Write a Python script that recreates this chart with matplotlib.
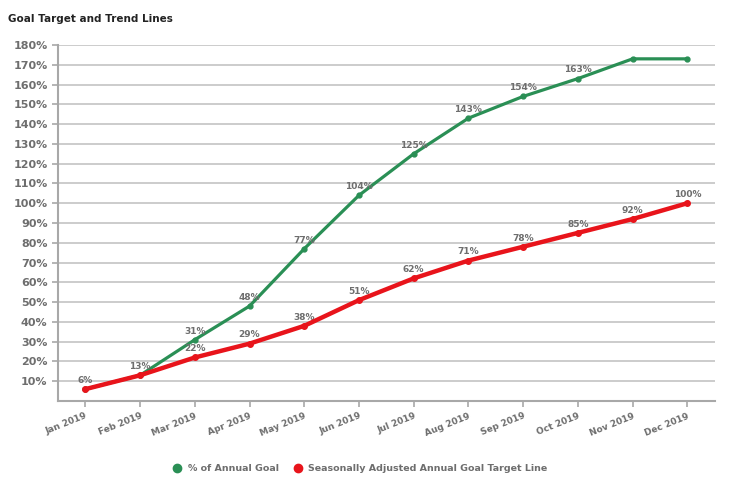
import matplotlib.pyplot as plt

months = ["Jan 2019", "Feb 2019", "Mar 2019", "Apr 2019", "May 2019", "Jun 2019",
          "Jul 2019", "Aug 2019", "Sep 2019", "Oct 2019", "Nov 2019", "Dec 2019"]
annual_goal = [6, 13, 31, 48, 77, 104, 125, 143, 154, 163, 173, 173]
goal_labels = ["6%", "13%", "31%", "48%", "77%", "104%", "125%", "143%", "154%", "163%", "", ""]
target_line = [6, 13, 22, 29, 38, 51, 62, 71, 78, 85, 92, 100]
target_labels = ["", "", "22%", "29%", "38%", "51%", "62%", "71%", "78%", "85%", "92%", "100%"]
yticks = list(range(10, 190, 10))

green = "#2a8f55"
red = "#e8141b"
grey = "#6e6e6e"

fig = plt.figure(figsize=(7.3, 4.87), dpi=100)
ax = fig.add_axes([0.0795, 0.1766, 0.8995, 0.731])

x = list(range(len(months)))
ax.plot(x, annual_goal, color=green, linewidth=2.3, marker="o", markersize=3.5, zorder=3)
ax.plot(x, target_line, color=red, linewidth=3.2, marker="o", markersize=4, zorder=4)


### data labels above the points
def put_labels(values, labels):
    for i, (v, lab) in enumerate(zip(values, labels)):
        if lab:
            ax.annotate(lab, (i, v), xytext=(0, 3), textcoords="offset points",
                        ha="center", va="bottom", fontsize=6.5, fontweight="bold", color=grey)


put_labels(annual_goal, goal_labels)
put_labels(target_line, target_labels)

ax.set_xlim(-0.5, 11.5)
ax.set_ylim(0, 180)
ax.set_yticks(yticks)
ax.set_yticklabels([f"{t}%" for t in yticks])
ax.set_xticks(x)
ax.set_xticklabels(months, rotation=22, ha="right", rotation_mode="anchor")
ax.yaxis.grid(True, color="#c4c4c4", linewidth=1.2)
ax.set_axisbelow(True)

for s in ["top", "right"]:
    ax.spines[s].set_visible(False)
for s in ["left", "bottom"]:
    ax.spines[s].set_color("#a8a8a8")
    ax.spines[s].set_linewidth(1.5)
ax.tick_params(axis="y", colors="#a8a8a8", labelcolor=grey, labelsize=8, length=4, width=1.2)
ax.tick_params(axis="x", colors="#a8a8a8", labelcolor=grey, labelsize=6.5, length=4, width=1.2)
for t in ax.get_yticklabels() + ax.get_xticklabels():
    t.set_fontweight("bold")

fig.text(0.011, 0.962, "Goal Target and Trend Lines", fontsize=7.5, fontweight="bold",
         color="#222222", va="center")

h1 = plt.Line2D([], [], color=green, marker="o", linestyle="", markersize=6)
h2 = plt.Line2D([], [], color=red, marker="o", linestyle="", markersize=6)
leg = fig.legend([h1, h2], ["% of Annual Goal", "Seasonally Adjusted Annual Goal Target Line"],
                 loc="center", bbox_to_anchor=(0.49, 0.037), ncol=2, frameon=False,
                 fontsize=6.8, handletextpad=0.1, columnspacing=1.0)
for t in leg.get_texts():
    t.set_color(grey)
    t.set_fontweight("bold")

fig.savefig("out.png", dpi=100)
